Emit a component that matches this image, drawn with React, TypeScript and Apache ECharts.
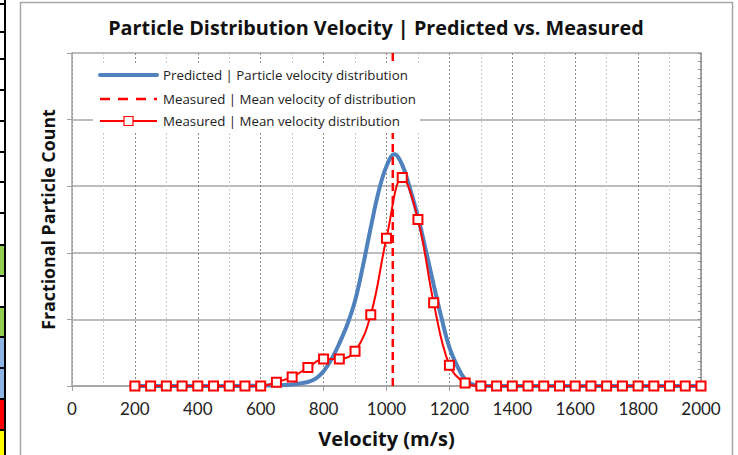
import React, { useEffect, useRef } from "react";
import * as echarts from "echarts";

// ---- data ----
const measuredVelocity = [
  200, 250, 300, 350, 400, 450, 500, 550, 600, 650, 700, 750, 800, 850, 900,
  950, 1000, 1050, 1100, 1150, 1200, 1250, 1300, 1350, 1400, 1450, 1500, 1550,
  1600, 1650, 1700, 1750, 1800, 1850, 1900, 1950, 2000,
];
const measuredCount = [
  0, 0, 0, 0, 0, 0, 0, 0, 0, 0.0028, 0.0068, 0.0138, 0.0203, 0.0203, 0.026,
  0.0535, 0.111, 0.1565, 0.125, 0.0625, 0.0155, 0.0023, 0, 0, 0, 0, 0, 0, 0, 0,
  0, 0, 0, 0, 0, 0, 0,
];
const predictedVelocity = [
  200, 300, 400, 500, 600, 650, 700, 750, 775, 800, 825, 850, 875, 900, 925,
  950, 975, 1000, 1025, 1050, 1075, 1100, 1125, 1150, 1175, 1200, 1225, 1250,
  1275, 1300, 1400, 1500, 1600, 1700, 1800, 1900, 2000,
];
const predictedCount = [
  0, 0, 0, 0, 0.0003, 0.0005, 0.0012, 0.003, 0.0055, 0.011, 0.02, 0.032, 0.046,
  0.064, 0.09, 0.119, 0.146, 0.165, 0.174, 0.166, 0.148, 0.127, 0.102, 0.076,
  0.051, 0.029, 0.015, 0.005, 0.001, 0, 0, 0, 0, 0, 0, 0, 0,
];
const meanVelocity = 1020;
const xTicks = ["0", "200", "400", "600", "800", "1000", "1200", "1400", "1600", "1800", "2000"];

const seriesNames = [
  "Predicted | Particle velocity distribution",
  "Measured | Mean velocity of distribution",
  "Measured | Mean velocity distribution",
];

// decorative spreadsheet cells at the left edge
const cellLines = [4, 32, 59, 90, 121, 152, 182, 213, 245, 276, 307, 337, 368, 399, 430];
const cellFills = [
  { y0: 245, y1: 276, c: "#92D050" },
  { y0: 307, y1: 337, c: "#92D050" },
  { y0: 337, y1: 368, c: "#8DB4E2" },
  { y0: 368, y1: 399, c: "#8DB4E2" },
  { y0: 399, y1: 430, c: "#FF0000" },
  { y0: 430, y1: 456, c: "#FFFF00" },
];

const FONT = "'Open Sans', Lato, sans-serif";
const TICKFONT = "Lato, 'Open Sans', sans-serif";
const BLUE = "#4F81BD";
const RED = "#FF0000";

export default function App() {
  const ref = useRef<HTMLDivElement>(null);
  useEffect(() => {
    if (!ref.current) return;
    const chart = echarts.init(ref.current, undefined, { renderer: "svg" });
    const graphics: any[] = [];
    cellFills.forEach((f) =>
      graphics.push({ type: "rect", shape: { x: 0, y: f.y0, width: 5, height: f.y1 - f.y0 }, style: { fill: f.c }, z: 0 })
    );
    cellLines.forEach((y) =>
      graphics.push({ type: "rect", shape: { x: 0, y: y - 1, width: 6, height: 2 }, style: { fill: "#000" }, z: 1 })
    );
    graphics.push({ type: "rect", shape: { x: 4, y: 0, width: 2, height: 455 }, style: { fill: "#000" }, z: 1 });
    graphics.push({
      type: "rect",
      shape: { x: 20.5, y: 2.5, width: 712, height: 470 },
      style: { fill: "none", stroke: "#a6a6a6", lineWidth: 1.5 },
      z: 0,
    });

    // legend (drawn as graphic so the icons match the reference)
    const lx0 = 100, lx1 = 157, tx = 163;
    const rows = [75, 99, 121];
    graphics.push({
      type: "rect",
      shape: { x: 93, y: 63, width: 327, height: 70 },
      style: { fill: "#fff" },
      z: 100,
    });
    graphics.push({
      type: "line",
      shape: { x1: lx0, y1: rows[0], x2: lx1, y2: rows[0] },
      style: { stroke: BLUE, lineWidth: 4, lineCap: "round" },
      z: 101,
    });
    graphics.push({
      type: "line",
      shape: { x1: lx0, y1: rows[1], x2: lx1, y2: rows[1] },
      style: { stroke: RED, lineWidth: 2.5, lineDash: [10, 8] },
      z: 101,
    });
    graphics.push({
      type: "line",
      shape: { x1: lx0, y1: rows[2], x2: lx1, y2: rows[2] },
      style: { stroke: RED, lineWidth: 2 },
      z: 101,
    });
    graphics.push({
      type: "rect",
      shape: { x: 124, y: rows[2] - 4.5, width: 9, height: 9 },
      style: { fill: "#fff", stroke: RED, lineWidth: 1.2 },
      z: 102,
    });
    seriesNames.forEach((n, i) =>
      graphics.push({
        type: "text",
        x: tx,
        y: rows[i],
        style: {
          text: n,
          fontFamily: FONT,
          fontSize: 13.3,
          fill: "#222",
          verticalAlign: "middle",
          align: "left",
        },
        z: 101,
      })
    );

    chart.setOption({
      animation: false,
      backgroundColor: "#fff",
      textStyle: { fontFamily: FONT },
      title: {
        text: "Particle Distribution Velocity | Predicted vs. Measured",
        left: 371,
        textAlign: "center",
        top: 12,
        textStyle: { fontFamily: FONT, fontWeight: "bold", fontSize: 19.8, color: "#111" },
      },
      graphic: graphics,
      grid: { left: 72, right: 37, top: 53, bottom: 69 },
      xAxis: {
        type: "value",
        min: 0,
        max: 2000,
        interval: 200,
        name: "Velocity (m/s)",
        nameLocation: "middle",
        nameGap: 42,
        nameTextStyle: { fontFamily: FONT, fontWeight: "bold", fontSize: 20, color: "#111" },
        axisLine: { lineStyle: { color: "#a0a0a0", width: 1.5 } },
        axisTick: { show: true, length: 5, lineStyle: { color: "#a0a0a0" } },
        axisLabel: {
          fontSize: 17,
          color: "#222",
          margin: 14,
          fontFamily: TICKFONT,
          formatter: (v: number) => xTicks[Math.round(v / 200)] ?? String(v),
        },
        splitLine: { show: true, lineStyle: { color: "#8c8c8c", type: [2, 2], width: 1 } },
        minorTick: { show: false, splitNumber: 2 },
        minorSplitLine: { show: true, lineStyle: { color: "#c8c8c8", type: [2, 2], width: 1 } },
      },
      yAxis: [
        {
          type: "value",
          min: 0,
          max: 0.25,
          interval: 0.05,
          name: "Fractional Particle Count",
          nameLocation: "middle",
          nameGap: 15,
          nameTextStyle: { fontFamily: FONT, fontWeight: "bold", fontSize: 17.8, color: "#111" },
          axisLine: { show: true, lineStyle: { color: "#a0a0a0", width: 1.5 } },
          axisTick: { show: true, length: 5, lineStyle: { color: "#a0a0a0" } },
          axisLabel: { show: false },
          splitLine: { show: true, lineStyle: { color: "#a6a6a6", width: 1.5 } },
        },
        {
          type: "value",
          position: "right",
          min: 0,
          max: 0.25,
          interval: 0.00625,
          axisLine: { show: true, lineStyle: { color: "#8c8c8c", width: 1.5 } },
          axisTick: { show: true, inside: true, length: 3, lineStyle: { color: "#8c8c8c" } },
          axisLabel: { show: false },
          splitLine: { show: false },
        },
      ],
      series: [
        {
          name: seriesNames[0],
          type: "line",
          smooth: 0.4,
          symbol: "none",
          data: predictedVelocity.map((v, i) => [v, predictedCount[i]]),
          lineStyle: { color: BLUE, width: 4 },
          itemStyle: { color: BLUE },
          z: 2,
        },
        {
          name: seriesNames[1],
          type: "line",
          symbol: "none",
          data: [
            [meanVelocity, 0],
            [meanVelocity, 0.25],
          ],
          lineStyle: { color: RED, width: 2.5, type: [8, 5] },
          itemStyle: { color: RED },
          z: 3,
        },
        {
          name: seriesNames[2],
          type: "line",
          smooth: 0.4,
          symbol: "emptyRect",
          symbolSize: 9,
          data: measuredVelocity.map((v, i) => [v, measuredCount[i]]),
          lineStyle: { color: RED, width: 2 },
          itemStyle: { color: RED, borderColor: RED, borderWidth: 1.2 },
          z: 4,
        },
      ],
    });
    return () => chart.dispose();
  }, []);
  return (
    <div
      ref={ref}
      style={{ position: "fixed", left: 0, top: 0, width: 738, height: 455, background: "#fff" }}
    />
  );
}
